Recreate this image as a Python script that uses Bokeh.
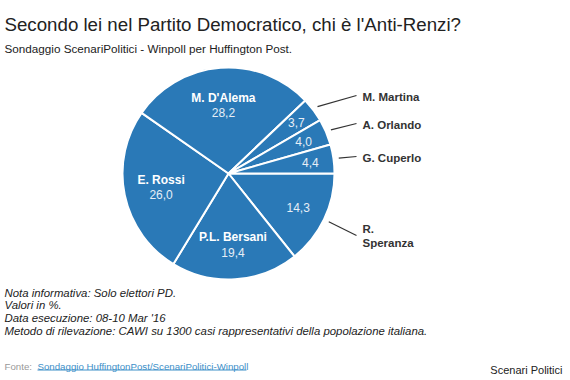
import math
from bokeh.plotting import figure
from bokeh.models import Range1d
from bokeh.core.properties import value
from bokeh.embed import file_html
from bokeh.resources import INLINE

# ---- data ----
slice_names = ["R. Speranza", "P.L. Bersani", "E. Rossi", "M. D'Alema",
               "M. Martina", "A. Orlando", "G. Cuperlo"]
slice_values = [14.3, 19.4, 26.0, 28.2, 3.7, 4.0, 4.4]
value_labels = ["14,3", "19,4", "26,0", "28,2", "3,7", "4,0", "4,4"]
inside_names = ["", "P.L. Bersani", "E. Rossi", "M. D'Alema", "", "", ""]
outside_names = [["R.", "Speranza"], [], [], [], ["M. Martina"], ["A. Orlando"], ["G. Cuperlo"]]

title_text = "Secondo lei nel Partito Democratico, chi è l'Anti-Renzi?"
subtitle_text = "Sondaggio ScenariPolitici - Winpoll per Huffington Post."
notes = ["Nota informativa: Solo elettori PD.",
         "Valori in %.",
         "Data esecuzione: 08-10 Mar '16",
         "Metodo di rilevazione: CAWI su 1300 casi rappresentativi della popolazione italiana."]
source_prefix = "Fonte:"
source_link = "Sondaggio HuffingtonPost/ScenariPolitici-Winpoll"
credit = "Scenari Politici"

# ---- style / layout ----
BLUE = "#2a79b7"
FONT = value("Liberation Sans")
W, H = 570, 380


def Y(yref):
    return H - yref


CX, CY, R = 228, Y(173), 106
label_r = [0.73, 0.68, 0.65, 0.64, 0.80, 0.77, 0.78]
outside_y = [228, None, None, None, 96, 124, 157]

p = figure(width=W, height=H, x_range=Range1d(0, W), y_range=Range1d(0, H),
           output_backend="svg", toolbar_location=None, min_border=0)
p.axis.visible = False
p.grid.visible = False
p.outline_line_color = None
p.background_fill_color = "white"
p.border_fill_color = "white"

total = sum(slice_values)
starts, ends, mids = [], [], []
cum = 0.0
for v in slice_values:
    a0 = -2 * math.pi * cum / total
    cum += v
    a1 = -2 * math.pi * cum / total
    starts.append(a1)
    ends.append(a0)
    mids.append((a0 + a1) / 2)

p.wedge(x=CX, y=CY, radius=R, start_angle=starts, end_angle=ends,
        fill_color=BLUE, line_color="white", line_width=2)

# inside labels
nx, ny, nt = [], [], []
vx, vy, vt = [], [], []
for i, m in enumerate(mids):
    px = CX + label_r[i] * R * math.cos(m)
    py = CY + label_r[i] * R * math.sin(m)
    if inside_names[i]:
        nx.append(px); ny.append(py + 8); nt.append(inside_names[i])
        vx.append(px); vy.append(py - 7); vt.append(value_labels[i])
    else:
        vx.append(px); vy.append(py); vt.append(value_labels[i])

p.text(x=nx, y=ny, text=nt, text_font=FONT, text_font_size="12px", text_font_style="bold",
       text_color="white", text_align="center", text_baseline="middle")
p.text(x=vx, y=vy, text=vt, text_font=FONT, text_font_size="12px",
       text_color="#e6eef6", text_align="center", text_baseline="middle")

# outside labels with leader lines
x0s, y0s, x1s, y1s = [], [], [], []
ox, oy, ot = [], [], []
for i, m in enumerate(mids):
    if not outside_names[i]:
        continue
    yl = outside_y[i]
    lines = outside_names[i]
    if len(lines) == 2:
        ox += [362, 362]; oy += [Y(yl), Y(yl + 14)]; ot += lines
        yend = Y(yl + 7)
    else:
        ox.append(362); oy.append(Y(yl)); ot.append(lines[0])
        yend = Y(yl - 1)
    x0s.append(CX + 1.05 * R * math.cos(m))
    y0s.append(CY + 1.05 * R * math.sin(m))
    x1s.append(356)
    y1s.append(yend)

p.segment(x0=x0s, y0=y0s, x1=x1s, y1=y1s, line_color="#333333", line_width=1.2)
p.text(x=ox, y=oy, text=ot, text_font=FONT, text_font_size="11.5px", text_font_style="bold",
       text_color="#333333", text_align="left", text_baseline="middle")

# titles
p.text(x=[4], y=[Y(23.5)], text=[title_text], text_font=FONT, text_font_size="18.7px",
       text_color="#222222", text_align="left", text_baseline="alphabetic")
p.text(x=[4], y=[Y(48)], text=[subtitle_text], text_font=FONT, text_font_size="11.7px",
       text_color="#222222", text_align="left", text_baseline="alphabetic")

# notes
note_y = [Y(292 + 12.7 * k) for k in range(len(notes))]
p.text(x=[4] * len(notes), y=note_y, text=notes, text_font=FONT, text_font_size="11.4px",
       text_font_style="italic", text_color="#222222", text_align="left", text_baseline="alphabetic")

# source
p.text(x=[4], y=[Y(366)], text=[source_prefix], text_font=FONT, text_font_size="9.7px",
       text_color="#999999", text_align="left", text_baseline="alphabetic")
p.text(x=[37], y=[Y(366)], text=[source_link], text_font=FONT, text_font_size="9.7px",
       text_color="#3d8fc8", text_align="left", text_baseline="alphabetic")
p.segment(x0=[37], y0=[Y(369.5)], x1=[246], y1=[Y(369.5)], line_color="#3d8fc8", line_width=1)
p.text(x=[562], y=[Y(369.5)], text=[credit], text_font=FONT, text_font_size="11px",
       text_color="#222222", text_align="right", text_baseline="alphabetic")

open("out.html", "w").write(file_html(p, INLINE))
